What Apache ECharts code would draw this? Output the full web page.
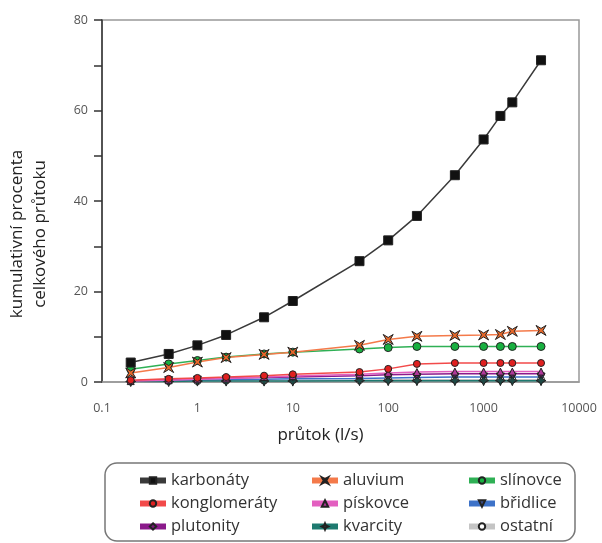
<!DOCTYPE html>
<html>
<head>
<meta charset="utf-8">
<script src="https://cdn.jsdelivr.net/npm/echarts@6/dist/echarts.min.js"></script>
<style>
  html, body { margin: 0; padding: 0; background: #fff; }
  #chart { width: 602px; height: 543px; }
</style>
</head>
<body>
<div id="chart"></div>
<script>
// průtok (l/s) – x values of the measured points
const flows = [0.2, 0.5, 1, 2, 5, 10, 50, 100, 200, 500, 1000, 1500, 2000, 4000];

const karbonaty    = [4.3, 6.2, 8.1, 10.4, 14.3, 17.9, 26.7, 31.3, 36.7, 45.7, 53.6, 58.8, 61.8, 71.1];
const konglomeraty = [0.4, 0.7, 0.9, 1.1, 1.4, 1.7, 2.2, 2.9, 4.0, 4.2, 4.2, 4.2, 4.2, 4.2];
const plutonity    = [0.3, 0.5, 0.7, 0.9, 1.0, 1.1, 1.4, 1.6, 1.7, 1.8, 1.8, 1.8, 1.8, 1.8];
const aluvium      = [2.0, 3.2, 4.4, 5.4, 6.1, 6.6, 8.1, 9.4, 10.1, 10.3, 10.4, 10.5, 11.2, 11.4];
const piskovce     = [0.2, 0.4, 0.6, 0.8, 1.1, 1.3, 1.7, 2.0, 2.2, 2.3, 2.3, 2.3, 2.3, 2.3];
const kvarcity     = [0.1, 0.1, 0.2, 0.2, 0.2, 0.2, 0.3, 0.3, 0.3, 0.3, 0.3, 0.3, 0.3, 0.3];
const slinovce     = [2.8, 4.0, 4.75, 5.5, 6.2, 6.6, 7.3, 7.6, 7.85, 7.85, 7.85, 7.85, 7.85, 7.85];
const bridlice     = [0.2, 0.3, 0.4, 0.5, 0.6, 0.7, 0.8, 0.9, 1.0, 1.1, 1.1, 1.1, 1.1, 1.1];
const ostatni      = [0.1, 0.2, 0.2, 0.3, 0.3, 0.4, 0.4, 0.5, 0.5, 0.5, 0.5, 0.5, 0.5, 0.5];

const yTicks = [0, 20, 40, 60, 80];

const FONT = 'Open Sans';
const xStar = 'path://M0,0 L5,3 L10,0 L7,5 L10,10 L5,7 L0,10 L3,5 Z';
const plusStar = 'path://M5,0 L6.5,3.5 L10,5 L6.5,6.5 L5,10 L3.5,6.5 L0,5 L3.5,3.5 Z';

function mk(name, data, line, fill, symbol, size, extra) {
  return Object.assign({
    name,
    type: 'line',
    data: flows.map((f, i) => [f, data[i]]),
    symbol,
    symbolSize: size,
    lineStyle: { color: line, width: 1.5 },
    itemStyle: { color: fill, borderColor: '#222', borderWidth: 1 },
    emphasis: { disabled: true },
    z: 2
  }, extra || {});
}

const series = [
  mk('ostatní', ostatni, '#c4c4c4', '#fff', 'circle', 7),
  mk('břidlice', bridlice, '#3d72c8', '#3d4f8a', 'triangle', 8, { symbolRotate: 180 }),
  mk('kvarcity', kvarcity, '#1e7a70', '#1e4a46', plusStar, 10),
  mk('plutonity', plutonity, '#8b1a8b', '#7a1a7a', 'diamond', 7),
  mk('pískovce', piskovce, '#e35fc0', '#b0389a', 'triangle', 7),
  mk('konglomeráty', konglomeraty, '#f24a4a', '#e02020', 'circle', 7),
  mk('slínovce', slinovce, '#2fb055', '#18b040', 'circle', 8),
  mk('aluvium', aluvium, '#f47a4a', '#e8682a', xStar, 10),
  mk('karbonáty', karbonaty, '#3a3a3a', '#111', 'rect', 9)
];

const legendBase = {
  orient: 'vertical',
  top: 472,
  height: 68,
  itemWidth: 26,
  itemHeight: 8,
  itemGap: 6,
  padding: 0,
  selectedMode: false,
  lineStyle: { width: 6 },
  textStyle: { fontFamily: FONT, fontSize: 16.5, lineHeight: 17, color: '#333' }
};

const option = {
  animation: false,
  grid: {
    left: 102, right: 23, top: 20, bottom: 161,
    show: true, borderColor: '#999', borderWidth: 1.5
  },
  xAxis: {
    type: 'log',
    logBase: 10,
    min: 0.1,
    max: 10000,
    name: 'průtok (l/s)',
    nameLocation: 'middle',
    nameGap: 45,
    nameTextStyle: { fontFamily: FONT, fontSize: 17, color: '#222', padding: [0, 40, 0, 0] },
    axisLine: { lineStyle: { color: '#999', width: 1.5 } },
    axisTick: { show: false },
    splitLine: { show: false },
    minorTick: { show: false },
    axisLabel: {
      fontFamily: FONT, fontSize: 12.5, color: '#555', margin: 20,
      formatter: v => String(+v.toPrecision(3))
    }
  },
  yAxis: {
    type: 'value',
    min: 0,
    max: 80,
    interval: 10,
    axisLine: { show: true, lineStyle: { color: '#333', width: 1.5 } },
    axisTick: { show: true, length: 8, lineStyle: { color: '#333', width: 1.5 } },
    splitLine: { show: false },
    axisLabel: {
      fontFamily: FONT, fontSize: 12.5, color: '#555', margin: 14,
      formatter: v => yTicks.includes(v) ? String(v) : ''
    }
  },
  legend: [
    Object.assign({ left: 137, data: ['karbonáty', 'konglomeráty', 'plutonity'] }, legendBase),
    Object.assign({ left: 309, data: ['aluvium', 'pískovce', 'kvarcity'] }, legendBase),
    Object.assign({ left: 466, data: ['slínovce', 'břidlice', 'ostatní'] }, legendBase)
  ],
  graphic: [
    {
      type: 'rect',
      shape: { x: 105, y: 463, width: 470, height: 78, r: 12 },
      style: { fill: 'none', stroke: '#777', lineWidth: 1.5 },
      z: -1
    },
    {
      type: 'text',
      x: 29, y: 234,
      rotation: Math.PI / 2,
      style: {
        text: 'kumulativní procenta\ncelkového průtoku',
        fontFamily: FONT, fontSize: 17, fill: '#222',
        textAlign: 'center', textVerticalAlign: 'middle', lineHeight: 23
      }
    }
  ],
  series
};

const chart = echarts.init(document.getElementById('chart'));
chart.setOption(option);
</script>
</body>
</html>
